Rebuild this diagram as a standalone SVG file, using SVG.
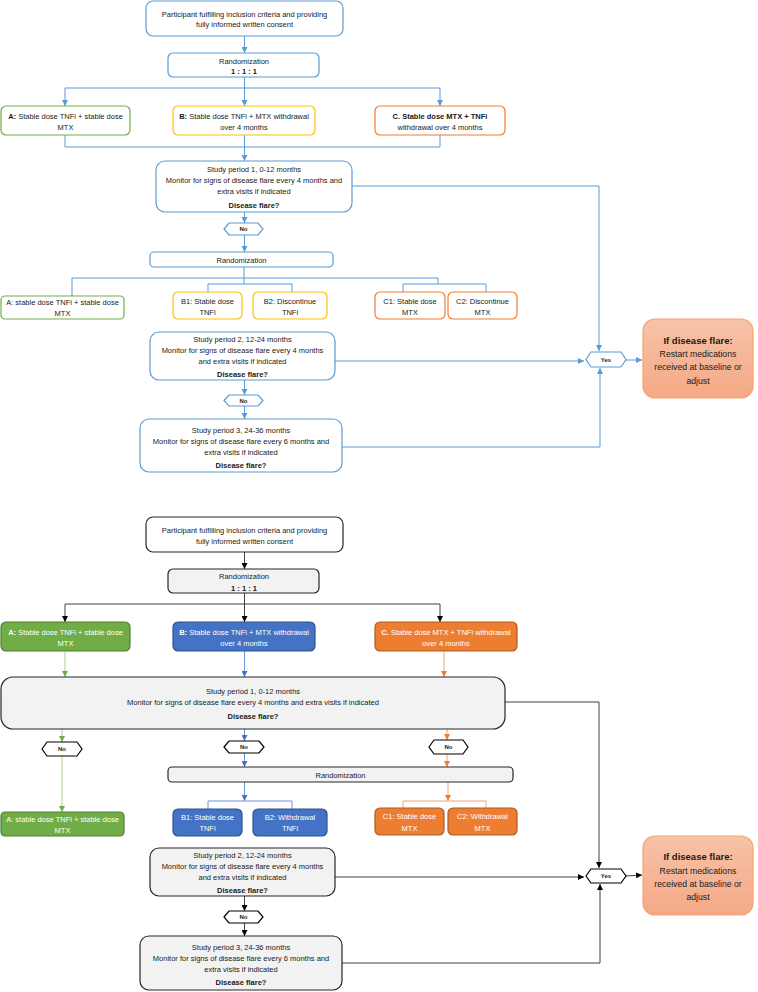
<svg xmlns="http://www.w3.org/2000/svg" width="758" height="992" viewBox="0 0 758 992">
<defs>
<style>
text{font-family:"Liberation Sans",Arial,sans-serif;font-size:7.5px;fill:#1a1a1a;text-anchor:middle}
.b{font-weight:bold}
.w{fill:#ffffff}
.sm{font-size:6px;font-weight:bold}
.fl1{font-size:9.5px;font-weight:bold}
.fl2{font-size:8.7px}
.tb{fill:#fff;stroke:#5B9BD5;stroke-width:1.2}
.tg{fill:#fff;stroke:#70AD47;stroke-width:1.2}
.ty{fill:#fff;stroke:#FFC000;stroke-width:1.2}
.to{fill:#fff;stroke:#ED7D31;stroke-width:1.2}
.bw{fill:#fff;stroke:#262626;stroke-width:1.2}
.bg{fill:#F2F2F2;stroke:#262626;stroke-width:1.2}
.bA{fill:#70AD47;stroke:#507E32;stroke-width:1.2}
.bB{fill:#4472C4;stroke:#2F528F;stroke-width:1.2}
.bC{fill:#ED7D31;stroke:#AE5A21;stroke-width:1.2}
.flare{fill:url(#fg);stroke:#F4A46E;stroke-width:1.2}
.hb{fill:#fff;stroke:#5B9BD5;stroke-width:1.2}
.hk{fill:#fff;stroke:#000;stroke-width:1.2}
.cb{fill:none;stroke:#5B9BD5;stroke-width:1}
.ck{fill:none;stroke:#404040;stroke-width:1}
.cg{fill:none;stroke:#A9D18E;stroke-width:1}
.cbl{fill:none;stroke:#6F94D6;stroke-width:1}
.co{fill:none;stroke:#F4A66E;stroke-width:1}
</style>
<linearGradient id="fg" x1="0" y1="0" x2="0" y2="1">
<stop offset="0" stop-color="#F7C3A8"/>
<stop offset="1" stop-color="#F4A886"/>
</linearGradient>
<marker id="mb" viewBox="0 0 6 6" refX="6" refY="3" markerWidth="6" markerHeight="6" markerUnits="userSpaceOnUse" orient="auto"><path d="M0,0 L6,3 L0,6 z" fill="#5B9BD5"/></marker>
<marker id="mk" viewBox="0 0 6 6" refX="6" refY="3" markerWidth="6" markerHeight="6" markerUnits="userSpaceOnUse" orient="auto"><path d="M0,0 L6,3 L0,6 z" fill="#000"/></marker>
<marker id="mg" viewBox="0 0 6 6" refX="6" refY="3" markerWidth="6" markerHeight="6" markerUnits="userSpaceOnUse" orient="auto"><path d="M0,0 L6,3 L0,6 z" fill="#70AD47"/></marker>
<marker id="mbl" viewBox="0 0 6 6" refX="6" refY="3" markerWidth="6" markerHeight="6" markerUnits="userSpaceOnUse" orient="auto"><path d="M0,0 L6,3 L0,6 z" fill="#4472C4"/></marker>
<marker id="mo" viewBox="0 0 6 6" refX="6" refY="3" markerWidth="6" markerHeight="6" markerUnits="userSpaceOnUse" orient="auto"><path d="M0,0 L6,3 L0,6 z" fill="#ED7D31"/></marker>
</defs>
<rect width="758" height="992" fill="#fff"/>

<g id="connectors">
<!-- top diagram -->
<path class="cb" d="M244.5,36 V53" marker-end="url(#mb)"/>
<path class="cb" d="M244.5,77 V106" marker-end="url(#mb)"/>
<path class="cb" d="M65,88 H440"/>
<path class="cb" d="M65,88 V106" marker-end="url(#mb)"/>
<path class="cb" d="M440,88 V106" marker-end="url(#mb)"/>
<path class="cb" d="M65,135 V147 H440 V135"/>
<path class="cb" d="M244.5,135 V161" marker-end="url(#mb)"/>
<path class="cb" d="M352,186 H599 V351" marker-end="url(#mb)"/>
<path class="cb" d="M244.5,212 V223" marker-end="url(#mb)"/>
<path class="cb" d="M244.5,235 V252" marker-end="url(#mb)"/>
<path class="cb" d="M244,267 V278"/>
<path class="cb" d="M72,296 V278 H438 V284"/>
<path class="cb" d="M244,278 V284"/>
<path class="cb" d="M208,292 V284 H292 V292"/>
<path class="cb" d="M403,292 V284 H486 V292"/>
<path class="cb" d="M335,361 H584" marker-end="url(#mb)"/>
<path class="cb" d="M626,360 H642" marker-end="url(#mb)"/>
<path class="cb" d="M244.5,380 V395" marker-end="url(#mb)"/>
<path class="cb" d="M244.5,406 V419" marker-end="url(#mb)"/>
<path class="cb" d="M342,447 H600 V368" marker-end="url(#mb)"/>
<!-- bottom diagram -->
<path class="ck" d="M244.5,552 V569" marker-end="url(#mk)"/>
<path class="ck" d="M244.5,593 V622" marker-end="url(#mk)"/>
<path class="ck" d="M65,604 H440"/>
<path class="ck" d="M65,604 V622" marker-end="url(#mk)"/>
<path class="ck" d="M440,604 V622" marker-end="url(#mk)"/>
<path class="cg" d="M65,651 V677" marker-end="url(#mg)"/>
<path class="cbl" d="M244.5,651 V677" marker-end="url(#mbl)"/>
<path class="co" d="M444,651 V677" marker-end="url(#mo)"/>
<path class="ck" d="M505,702 H599 V868" marker-end="url(#mk)"/>
<path class="cg" d="M62,729 V742" marker-end="url(#mg)"/>
<path class="cg" d="M62,756 V812" marker-end="url(#mg)"/>
<path class="cbl" d="M244.5,729 V741" marker-end="url(#mbl)"/>
<path class="cbl" d="M244.5,753 V767" marker-end="url(#mbl)"/>
<path class="co" d="M447,729 V740" marker-end="url(#mo)"/>
<path class="co" d="M447,754 V767" marker-end="url(#mo)"/>
<path class="cbl" d="M244.5,782 V801" marker-end="url(#mbl)"/>
<path class="cbl" d="M208,809 V801 H292 V809"/>
<path class="co" d="M448,782 V801" marker-end="url(#mo)"/>
<path class="co" d="M403,808 V801 H486 V808"/>
<path class="ck" d="M335,877 H584" marker-end="url(#mk)"/>
<path class="ck" d="M626,876 L642,875" marker-end="url(#mk)"/>
<path class="ck" d="M244.5,896 V911" marker-end="url(#mk)"/>
<path class="ck" d="M244.5,923 V936" marker-end="url(#mk)"/>
<path class="ck" d="M342,963 H600 V884" marker-end="url(#mk)"/>
</g>

<!-- ===== Top diagram ===== -->
<g id="t-participant"><rect class="tb" x="146" y="1" width="197" height="35" rx="7"/>
<text x="244.5" y="16.7">Participant fulfilling inclusion criteria and providing</text>
<text x="244.5" y="27.2">fully informed written consent</text></g>
<g id="t-rand1"><rect class="tb" x="168" y="53" width="151" height="24" rx="5"/>
<text x="244" y="63.7">Randomization</text>
<text x="244" y="73.9" class="b">1 : 1 : 1</text></g>
<g id="t-A"><rect class="tg" x="1" y="106" width="129" height="29" rx="5"/>
<text x="65.5" y="118.7"><tspan class="b">A:</tspan> Stable dose TNFi + stable dose</text>
<text x="65.5" y="129.7">MTX</text></g>
<g id="t-B"><rect class="ty" x="173" y="106" width="142" height="29" rx="5"/>
<text x="244" y="118.7"><tspan class="b">B:</tspan> Stable dose TNFi + MTX withdrawal</text>
<text x="244" y="129.7">over 4 months</text></g>
<g id="t-C"><rect class="to" x="375" y="106" width="130" height="29" rx="5"/>
<text x="440" y="118.7" class="b">C. Stable dose MTX + TNFi</text>
<text x="440" y="129.7">withdrawal over 4 months</text></g>
<g id="t-study1"><rect class="tb" x="156" y="161" width="196" height="51" rx="9"/>
<text x="254" y="171.7">Study period 1, 0-12 months</text>
<text x="254" y="182.7">Monitor for signs of disease flare every 4 months and</text>
<text x="254" y="193.7">extra visits if indicated</text>
<text x="254" y="207.7" class="b">Disease flare?</text></g>
<g id="t-no1"><polygon class="hb" points="224,229 229,223 258,223 263,229 258,235 229,235"/>
<text x="243.5" y="231.2" class="sm">No</text></g>
<g id="t-rand2"><rect class="tb" x="150" y="252" width="183" height="15" rx="4"/>
<text x="241.5" y="262.5">Randomization</text></g>
<g id="t-A2"><rect class="tg" x="1" y="296" width="123" height="23" rx="4"/>
<text x="62.5" y="304.7">A: stable dose TNFi + stable dose</text>
<text x="62.5" y="315.7">MTX</text></g>
<g id="t-B1"><rect class="ty" x="173" y="292" width="69" height="27" rx="5"/>
<text x="207.5" y="303.7">B1: Stable dose</text>
<text x="207.5" y="314.7">TNFi</text></g>
<g id="t-B2"><rect class="ty" x="253" y="292" width="74" height="27" rx="5"/>
<text x="290" y="303.7">B2: Discontinue</text>
<text x="290" y="314.7">TNFi</text></g>
<g id="t-C1"><rect class="to" x="375" y="292" width="70" height="27" rx="5"/>
<text x="410" y="303.7">C1: Stable dose</text>
<text x="410" y="314.7">MTX</text></g>
<g id="t-C2"><rect class="to" x="448" y="292" width="69" height="27" rx="5"/>
<text x="482.5" y="303.7">C2: Discontinue</text>
<text x="482.5" y="314.7">MTX</text></g>
<g id="t-study2"><rect class="tb" x="150" y="332" width="185" height="48" rx="9"/>
<text x="242.5" y="341.7">Study period 2, 12-24 months</text>
<text x="242.5" y="352.7">Monitor for signs of disease flare every 4 months</text>
<text x="242.5" y="363.7">and extra visits if indicated</text>
<text x="242.5" y="377.2" class="b">Disease flare?</text></g>
<g id="t-yes"><polygon class="hb" points="586,359.5 591,352 621,352 626,359.5 621,367 591,367"/>
<text x="606" y="362" class="sm">Yes</text></g>
<g id="t-flare"><rect class="flare" x="643" y="319" width="110" height="79" rx="12"/>
<text x="698" y="344.4" class="fl1">If disease flare:</text>
<text x="698" y="357.2" class="fl2">Restart medications</text>
<text x="698" y="370.3" class="fl2">received at baseline or</text>
<text x="698" y="383.5" class="fl2">adjust</text></g>
<g id="t-no2"><polygon class="hb" points="224,400.5 229,395 258,395 263,400.5 258,406 229,406"/>
<text x="243.5" y="402.7" class="sm">No</text></g>
<g id="t-study3"><rect class="tb" x="140" y="419" width="202" height="53" rx="9"/>
<text x="241" y="432.7">Study period 3, 24-36 months</text>
<text x="241" y="443.7">Monitor for signs of disease flare every 6 months and</text>
<text x="241" y="454.7">extra visits if indicated</text>
<text x="241" y="468.2" class="b">Disease flare?</text></g>

<!-- ===== Bottom diagram ===== -->
<g id="b-participant"><rect class="bw" x="146" y="517" width="197" height="35" rx="7"/>
<text x="244.5" y="532.7">Participant fulfilling inclusion criteria and providing</text>
<text x="244.5" y="543.7">fully informed written consent</text></g>
<g id="b-rand1"><rect class="bg" x="168" y="569" width="151" height="24" rx="5"/>
<text x="244" y="579.2">Randomization</text>
<text x="244" y="590.7" class="b">1 : 1 : 1</text></g>
<g id="b-A"><rect class="bA" x="1" y="622" width="129" height="29" rx="5"/>
<text x="65.5" y="634.7" class="w"><tspan class="b">A:</tspan> Stable dose TNFi + stable dose</text>
<text x="65.5" y="645.7" class="w">MTX</text></g>
<g id="b-B"><rect class="bB" x="173" y="622" width="142" height="29" rx="5"/>
<text x="244" y="634.7" class="w"><tspan class="b">B:</tspan> Stable dose TNFi + MTX withdrawal</text>
<text x="244" y="645.7" class="w">over 4 months</text></g>
<g id="b-C"><rect class="bC" x="375" y="622" width="142" height="29" rx="5"/>
<text x="446" y="634.7" class="w"><tspan class="b">C.</tspan> Stable dose MTX + TNFi withdrawal</text>
<text x="446" y="645.7" class="w">over 4 months</text></g>
<g id="b-study1"><rect class="bg" x="1" y="677" width="504" height="52" rx="12"/>
<text x="253" y="693.7">Study period 1, 0-12 months</text>
<text x="253" y="704.7">Monitor for signs of disease flare every 4 months and extra visits if indicated</text>
<text x="253" y="718.7" class="b">Disease flare?</text></g>
<g id="b-noA"><polygon class="hk" points="42,749 47,742 77,742 82,749 77,756 47,756"/>
<text x="62" y="751.2" class="sm">No</text></g>
<g id="b-noB"><polygon class="hk" points="224,747 229,741 259,741 264,747 259,753 229,753"/>
<text x="244" y="749.2" class="sm">No</text></g>
<g id="b-noC"><polygon class="hk" points="429,747 434,740 463,740 468,747 463,754 434,754"/>
<text x="448.5" y="749.2" class="sm">No</text></g>
<g id="b-rand2"><rect class="bg" x="168" y="767" width="345" height="15" rx="4"/>
<text x="340.5" y="777.7">Randomization</text></g>
<g id="b-A2"><rect class="bA" x="1" y="812" width="123" height="24" rx="4"/>
<text x="62.5" y="821.7" class="w">A: stable dose TNFi + stable dose</text>
<text x="62.5" y="832.7" class="w">MTX</text></g>
<g id="b-B1"><rect class="bB" x="173" y="809" width="69" height="27" rx="5"/>
<text x="207.5" y="819.7" class="w">B1: Stable dose</text>
<text x="207.5" y="831.2" class="w">TNFi</text></g>
<g id="b-B2"><rect class="bB" x="253" y="809" width="74" height="27" rx="5"/>
<text x="290" y="819.7" class="w">B2: Withdrawal</text>
<text x="290" y="831.2" class="w">TNFi</text></g>
<g id="b-C1"><rect class="bC" x="375" y="808" width="69" height="27" rx="5"/>
<text x="409.5" y="819.2" class="w">C1: Stable dose</text>
<text x="409.5" y="830.5" class="w">MTX</text></g>
<g id="b-C2"><rect class="bC" x="448" y="808" width="69" height="27" rx="5"/>
<text x="482.5" y="819.2" class="w">C2: Withdrawal</text>
<text x="482.5" y="830.5" class="w">MTX</text></g>
<g id="b-study2"><rect class="bg" x="150" y="848" width="185" height="48" rx="9"/>
<text x="242.5" y="857.7">Study period 2, 12-24 months</text>
<text x="242.5" y="868.7">Monitor for signs of disease flare every 4 months</text>
<text x="242.5" y="879.7">and extra visits if indicated</text>
<text x="242.5" y="893.2" class="b">Disease flare?</text></g>
<g id="b-yes"><polygon class="hk" points="586,876 591,869 621,869 626,876 621,883 591,883"/>
<text x="606" y="878.2" class="sm">Yes</text></g>
<g id="b-flare"><rect class="flare" x="643" y="836" width="110" height="79" rx="12"/>
<text x="698" y="860.4" class="fl1">If disease flare:</text>
<text x="698" y="874" class="fl2">Restart medications</text>
<text x="698" y="887" class="fl2">received at baseline or</text>
<text x="698" y="900" class="fl2">adjust</text></g>
<g id="b-no3"><polygon class="hk" points="224,917 229,911 258,911 263,917 258,923 229,923"/>
<text x="243.5" y="919.2" class="sm">No</text></g>
<g id="b-study3"><rect class="bg" x="140" y="936" width="202" height="54" rx="9"/>
<text x="241" y="949.7">Study period 3, 24-36 months</text>
<text x="241" y="960.7">Monitor for signs of disease flare every 6 months and</text>
<text x="241" y="971.7">extra visits if indicated</text>
<text x="241" y="984.7" class="b">Disease flare?</text></g>
</svg>
